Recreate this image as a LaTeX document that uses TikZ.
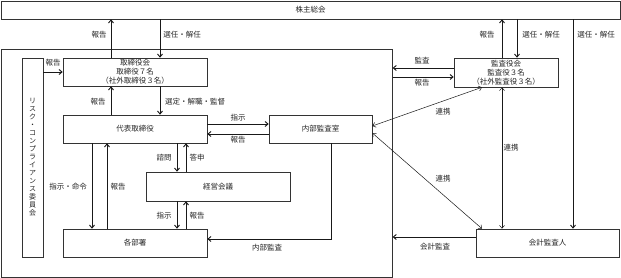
\documentclass[tikz,border=0pt]{standalone}
\usepackage{fontspec}
\setmainfont{Noto Sans CJK JP}
\usetikzlibrary{arrows.meta}
\begin{document}
\begin{tikzpicture}[x=1pt,y=-1pt,
  box/.style={draw=black!80, line width=0.6pt, fill=white, inner sep=0pt, align=center,
    font=\fontsize{7.5}{9}\selectfont, text=black!85},
  lbl/.style={font=\fontsize{7.5}{9}\selectfont, text=black!85, inner sep=0pt},
  conn/.style={line width=0.9pt, draw=black!90, -{Straight Barb[length=3pt,width=5pt]}},
  link/.style={line width=0.5pt, draw=black!90, {Straight Barb[length=3pt,width=5pt]}-{Straight Barb[length=3pt,width=5pt]}}]
\useasboundingbox (0,0) rectangle (621,278);
\fill[white] (0,0) rectangle (621,278);
% helper coordinates
\foreach \x in {92,107,111,160,177,186,331,482,502,517,573}{\coordinate (x\x) at (\x,0);}
\foreach \y in {68,72,77,124,126,133,134,237,239}{\coordinate (y\y) at (0,\y);}
% boxes
\node[box, minimum width=391, minimum height=228, anchor=north west] (org) at (1,49) {};
\node[box, minimum width=619, minimum height=18] (sh) at (310.5,10) {株主総会};
\node[box, minimum width=144, minimum height=28] (bod) at (135,72) {取締役会\\取締役７名\\（社外取締役３名）};
\node[box, minimum width=21, minimum height=199, font=\fontsize{7}{8}\selectfont] (risk) at (32.5,157.5) {リ\\ス\\ク\\・\\コ\\ン\\プ\\ラ\\イ\\ア\\ン\\ス\\委\\員\\会};
\node[box, minimum width=144, minimum height=28] (rep) at (135,129) {代表取締役};
\node[box, minimum width=103, minimum height=28] (ia) at (320.5,129) {内部監査室};
\node[box, minimum width=144, minimum height=29] (mgmt) at (218,186.5) {経営会議};
\node[box, minimum width=144, minimum height=28] (dept) at (135,243) {各部署};
\node[box, minimum width=104, minimum height=29] (kansa) at (506,72.5) {監査役会\\監査役３名\\（社外監査役３名）};
\node[box, minimum width=143, minimum height=28] (aud) at (547.5,243) {会計監査人};
% connectors to shareholders
\draw[conn] (bod.north -| x111) -- (sh.south -| x111);
\draw[conn] (sh.south -| x160) -- (bod.north -| x160);
\draw[conn] (kansa.north -| x502) -- (sh.south -| x502);
\draw[conn] (sh.south -| x517) -- (kansa.north -| x517);
\draw[conn] (sh.south -| x573) -- (aud.north -| x573);
% inside
\draw[conn] (risk.east |- y72) -- (bod.west |- y72);
\draw[conn] (rep.north -| x111) -- (bod.south -| x111);
\draw[conn] (bod.south -| x160) -- (rep.north -| x160);
\draw[conn] (rep.east |- y124) -- (ia.west |- y124);
\draw[conn] (ia.west |- y134) -- (rep.east |- y134);
\draw[conn] (rep.south -| x92) -- (dept.north -| x92);
\draw[conn] (dept.north -| x107) -- (rep.south -| x107);
\draw[conn] (rep.south -| x177) -- (mgmt.north -| x177);
\draw[conn] (mgmt.north -| x186) -- (rep.south -| x186);
\draw[conn] (mgmt.south -| x177) -- (dept.north -| x177);
\draw[conn] (dept.north -| x186) -- (mgmt.south -| x186);
\draw[conn] (ia.south -| x331) |- (dept.east |- y239);
% audit side
\draw[conn] (kansa.west |- y68) -- (org.east |- y68);
\draw[conn] (org.east |- y77) -- (kansa.west |- y77);
\draw[conn] (aud.west |- y237) -- (org.east |- y237);
\draw[link] (ia.east |- y126) -- (kansa.south -| x482);
\draw[link] (ia.east |- y133) -- (aud.north -| x482);
\draw[link] (kansa.south -| x502) -- (aud.north -| x502);
% labels
\node[lbl] (l1) at (99,35) {報告};
\node[lbl] (l2) at (182,35) {選任・解任};
\node[lbl] (l3) at (487,35) {報告};
\node[lbl] (l4) at (541,35) {選任・解任};
\node[lbl] (l5) at (596,35) {選任・解任};
\node[lbl] (l6) at (53,63) {報告};
\node[lbl] (l7) at (98,102) {報告};
\node[lbl, anchor=west] (l8) at (165,102) {選定・解職・監督};
\node[lbl] (l9) at (238,118) {指示};
\node[lbl] (l10) at (238,140) {報告};
\node[lbl] (l11) at (68,187) {指示・命令};
\node[lbl] (l12) at (118,187) {報告};
\node[lbl] (l13) at (164,158) {諮問};
\node[lbl] (l14) at (197,158) {答申};
\node[lbl] (l15) at (164,216) {指示};
\node[lbl] (l16) at (197,216) {報告};
\node[lbl] (l17) at (267,248) {内部監査};
\node[lbl] (l18) at (422,61) {監査};
\node[lbl] (l19) at (422,83) {報告};
\node[lbl] (l20) at (443,112) {連携};
\node[lbl] (l21) at (511,148) {連携};
\node[lbl] (l22) at (443,179) {連携};
\node[lbl] (l23) at (435,247) {会計監査};
\end{tikzpicture}
\end{document}
